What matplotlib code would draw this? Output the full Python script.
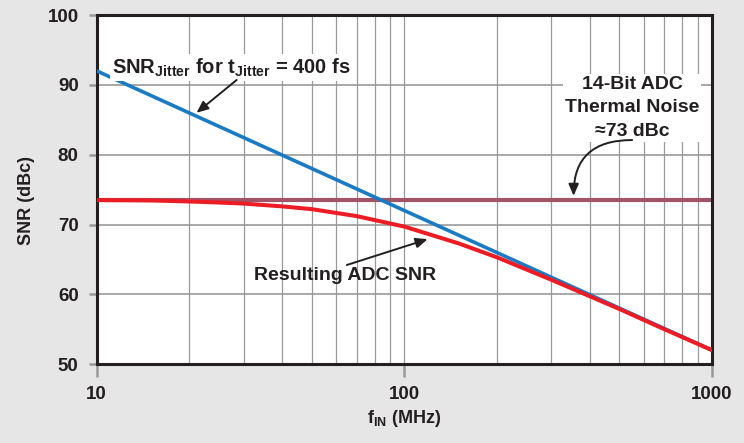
import matplotlib
matplotlib.use("Agg")
import matplotlib.pyplot as plt
from matplotlib.ticker import FixedLocator, NullFormatter, NullLocator

plt.rcParams['font.family'] = ['Liberation Sans', 'DejaVu Sans']
plt.rcParams['font.weight'] = 'bold'
plt.rcParams['axes.labelweight'] = 'bold'
plt.rcParams['mathtext.fontset'] = 'custom'
plt.rcParams['mathtext.bf'] = 'Liberation Sans:bold'
plt.rcParams['mathtext.rm'] = 'Liberation Sans:bold'

# data
freq_jitter = [10, 100, 1000]
snr_jitter = [92.0, 72.0, 52.0]

freq_thermal = [10, 1000]
snr_thermal = [73.5, 73.5]

freq_adc = [10, 15, 20, 25, 30, 40, 50, 70, 100, 150, 200, 300, 500, 700, 1000]
snr_adc = [73.5, 73.45, 73.3, 73.15, 73.0, 72.6, 72.2, 71.2, 69.7, 67.3, 65.3, 62.1, 57.9, 55.0, 52.0]

x_ticks = [10, 100, 1000]
y_ticks = [50, 60, 70, 80, 90, 100]
x_grid = [20, 30, 40, 50, 60, 70, 80, 90, 200, 300, 400, 500, 600, 700, 800, 900]

dark = '#231f20'
grid_c = '#999999'

fig = plt.figure(figsize=(7.44, 4.43), dpi=100, facecolor='#e6e6e6')
ax = fig.add_axes([0.130, 0.178, 0.827, 0.788])
ax.set_facecolor('white')

ax.plot(freq_thermal, snr_thermal, color='#a05468', lw=3.0, zorder=2, solid_capstyle='butt')
ax.plot(freq_jitter, snr_jitter, color='#1a7bc4', lw=2.6, zorder=3)
ax.plot(freq_adc, snr_adc, color='#ed1c24', lw=2.9, zorder=4)

ax.set_xscale('log')
ax.set_xlim(10, 1000)
ax.set_ylim(50, 100)

ax.xaxis.set_major_locator(FixedLocator(x_ticks))
ax.xaxis.set_minor_locator(NullLocator())
ax.xaxis.set_minor_formatter(NullFormatter())
ax.set_xticklabels([str(t) for t in x_ticks])
ax.set_yticks(y_ticks)

for x in x_grid + x_ticks[1:2]:
    ax.axvline(x, color=grid_c, lw=0.9, zorder=1)
for y in y_ticks[1:-1]:
    ax.axhline(y, color=grid_c, lw=1.2, zorder=1)

for s in ax.spines.values():
    s.set_color(dark)
    s.set_linewidth(2.2)

ax.tick_params(axis='y', direction='out', length=6, width=1.8, color=grid_c,
               labelsize=13.5, labelcolor=dark, pad=7)
ax.tick_params(axis='x', direction='out', length=9, width=1.8, color=grid_c,
               labelsize=13.5, labelcolor=dark, pad=7)
xt = ax.xaxis.get_major_ticks()
xt[0].tick1line.set_color(dark)
xt[-1].tick1line.set_color(dark)
yt = ax.yaxis.get_major_ticks()
yt[0].tick1line.set_color(dark)
yt[-1].tick1line.set_color(dark)

ax.set_xlabel(r'f$_{\mathbf{IN}}$ (MHz)', fontsize=13, color=dark, labelpad=3)
ax.set_ylabel('SNR (dBc)', fontsize=13, color=dark)
ax.yaxis.set_label_coords(-0.10, 0.47)

box = dict(boxstyle='square,pad=0.1', fc='white', ec='none')
arrow = dict(arrowstyle='-|>,head_length=0.7,head_width=0.3', color=dark, lw=1.4,
             shrinkA=0, shrinkB=0)

ax.text(27.3, 92.5, r'SNR$_{\mathbf{Jitter}}$ for t$_{\mathbf{Jitter}}$ = 400 fs',
        ha='center', va='center', fontsize=14.5, color=dark, bbox=box, zorder=5)
ax.annotate('', xy=(21.1, 86.0), xytext=(28.5, 90.7), arrowprops=arrow, zorder=5)

ax.text(550, 86.7, '14-Bit ADC\nThermal Noise\n\u224873 dBc', ha='center', va='center',
        fontsize=14, color=dark, linespacing=1.5, bbox=box, zorder=5)
ax.annotate('', xy=(355, 74.1), xytext=(550, 82.1),
            arrowprops=dict(arrow, connectionstyle='angle3,angleA=180,angleB=90'), zorder=5)

ax.text(64.1, 62.75, 'Resulting ADC SNR', ha='center', va='center',
        fontsize=14, color=dark, zorder=5)
ax.annotate('', xy=(119, 67.9), xytext=(65.0, 64.2), arrowprops=arrow, zorder=5)

fig.savefig('out.png', dpi=100, facecolor=fig.get_facecolor())
